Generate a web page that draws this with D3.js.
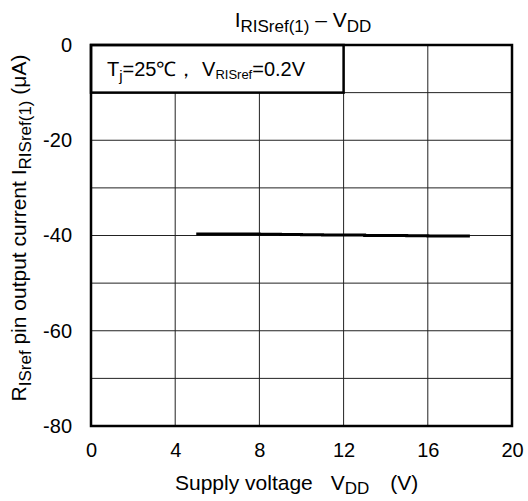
<!DOCTYPE html>
<html><head><meta charset="utf-8">
<script src="https://cdn.jsdelivr.net/npm/d3@7"></script>
<style>body{margin:0;background:#fff}svg{display:block;font-family:"Liberation Sans",Arial,sans-serif}</style>
</head><body><svg id="c" width="528" height="501"></svg>
<script>
const vdd = [5, 6, 7, 8, 9, 10, 11, 12, 13, 14, 15, 16, 17, 18];
const current = [-39.7, -39.7, -39.7, -39.75, -39.8, -39.85, -39.9, -39.9, -40.0, -40.0, -40.05, -40.1, -40.1, -40.1];
const xTicks = [0, 4, 8, 12, 16, 20];
const yTicks = [0, -20, -40, -60, -80];
const yGrid = [0, -10, -20, -30, -40, -50, -60, -70, -80];

const svg = d3.select("#c");
const L = 91, R = 512, T = 45, B = 426;
const x = d3.scaleLinear().domain([0, 20]).range([L, R]);
const y = d3.scaleLinear().domain([0, -80]).range([T, B]);
const FS = 20, FL = 21, FSUB = 17;

// grid
svg.append("g").selectAll("line").data(xTicks).join("line")
  .attr("x1", d => x(d)).attr("x2", d => x(d)).attr("y1", T).attr("y2", B)
  .attr("stroke", "#222").attr("stroke-width", 1);
svg.append("g").selectAll("line").data(yGrid).join("line")
  .attr("x1", L).attr("x2", R).attr("y1", d => y(d)).attr("y2", d => y(d))
  .attr("stroke", "#222").attr("stroke-width", 1);

// axes labels via d3 axes
const xa = svg.append("g").attr("transform", `translate(0,${B})`)
  .call(d3.axisBottom(x).tickValues(xTicks).tickSize(0).tickPadding(17).tickFormat(d => String(d)));
xa.select(".domain").remove();
xa.selectAll("text").attr("font-size", FS).attr("font-family", "Liberation Sans, Arial, sans-serif").attr("fill", "#000");
const ya = svg.append("g").attr("transform", `translate(${L},0)`)
  .call(d3.axisLeft(y).tickValues(yTicks).tickSize(0).tickPadding(19).tickFormat(d => String(d)));
ya.select(".domain").remove();
ya.selectAll("text").attr("font-size", FS).attr("font-family", "Liberation Sans, Arial, sans-serif").attr("fill", "#000");

// legend box
svg.append("rect").attr("x", x(0)).attr("y", y(0)).attr("width", x(12) - x(0)).attr("height", y(-10) - y(0))
  .attr("fill", "#fff").attr("stroke", "#000").attr("stroke-width", 2.5);
const lt = svg.append("text").attr("x", 107).attr("y", 76).attr("font-size", FS).attr("fill", "#000");
lt.append("tspan").text("T");
lt.append("tspan").attr("font-size", 15).attr("dy", 5).text("j");
lt.append("tspan").attr("dy", -5).text("=25℃，  V");
lt.append("tspan").attr("font-size", 13).attr("dy", 3).text("RISref");
lt.append("tspan").attr("dy", -3).text("=0.2V");

// frame
svg.append("rect").attr("x", L).attr("y", T).attr("width", R - L).attr("height", B - T)
  .attr("fill", "none").attr("stroke", "#000").attr("stroke-width", 2.5);

// data line
svg.append("path").datum(vdd.map((v, i) => [v, current[i]]))
  .attr("d", d3.line().x(d => x(d[0])).y(d => y(d[1])).curve(d3.curveStepAfter))
  .attr("fill", "none").attr("stroke", "#000").attr("stroke-width", 3);

// title
const tt = svg.append("text").attr("x", 303).attr("y", 27).attr("text-anchor", "middle").attr("font-size", FL).attr("fill", "#000");
tt.append("tspan").text("I");
tt.append("tspan").attr("font-size", FSUB).attr("dy", 5).text("RISref(1)");
tt.append("tspan").attr("dy", -5).text(" – V");
tt.append("tspan").attr("font-size", FSUB).attr("dy", 5).text("DD");

// x label
const xl = svg.append("text").attr("x", 175).attr("y", 490).attr("font-size", FL).attr("fill", "#000");
xl.append("tspan").text("Supply voltage");
xl.append("tspan").attr("dx", 18).text("V");
xl.append("tspan").attr("font-size", FSUB).attr("dy", 4).text("DD");
xl.append("tspan").attr("dy", -4).attr("dx", 21).text("(V)");

// y label
const yl = svg.append("text").attr("transform", "translate(26,228) rotate(-90)").attr("text-anchor", "middle").attr("font-size", FL).attr("fill", "#000");
yl.append("tspan").text("R");
yl.append("tspan").attr("font-size", FSUB).attr("dy", 5).text("ISref");
yl.append("tspan").attr("dy", -5).text(" pin output current I");
yl.append("tspan").attr("font-size", FSUB).attr("dy", 5).text("RISref(1)");
yl.append("tspan").attr("dy", -5).text(" (μA)");
</script></body></html>
